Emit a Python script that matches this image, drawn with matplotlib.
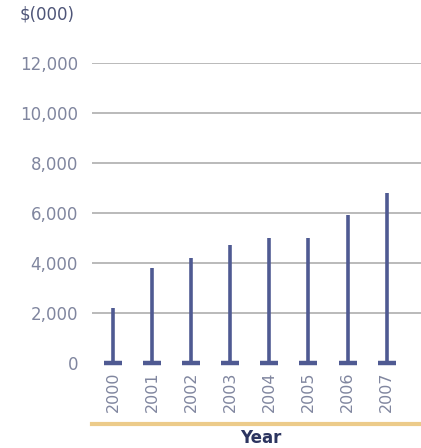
import matplotlib
matplotlib.use('Agg')
import matplotlib.pyplot as plt
from matplotlib.lines import Line2D

# Chart data
years = ['2000', '2001', '2002', '2003', '2004', '2005', '2006', '2007']
values = [2200, 3800, 4200, 4700, 5000, 5000, 5900, 6800]
y_ticks = [0, 2000, 4000, 6000, 8000, 10000, 12000]
y_tick_labels = ['0', '2,000', '4,000', '6,000', '8,000', '10,000', '12,000']

W, H = 421, 448
fig = plt.figure(figsize=(W / 100, H / 100), dpi=100)
fig.patch.set_facecolor('white')

# axes placed in pixel terms: x 92..421, y(0)=363, y(12000)=63
ax = fig.add_axes([92 / W, (H - 363) / H, (W - 92) / W, 300 / H])
ax.set_xlim(-0.54, 7.88)
ax.set_ylim(0, 12000)

label_col = '#80869f'
bar_col = '#4f5a92'

# gridlines (not at zero)
for t in y_ticks[1:]:
    ax.axhline(t, color='#b4b4b4', lw=1.3, zorder=1)

x = list(range(len(years)))
ax.vlines(x, 0, values, color=bar_col, lw=2.6, zorder=3)
ax.plot(x, [0] * len(x), ls='none', marker='_', markersize=13,
        mew=3.2, color=bar_col, clip_on=False, zorder=4)

ax.set_yticks(y_ticks)
ax.set_yticklabels(y_tick_labels, fontsize=12, color=label_col)
ax.tick_params(axis='y', length=0, pad=10)
ax.set_xticks(x)
ax.set_xticklabels(years, rotation=90, fontsize=11.5, color=label_col,
                   va='top')
ax.tick_params(axis='x', length=0, pad=6)

for s in ax.spines.values():
    s.set_visible(False)

# unit label
fig.text(20 / W, 1 - 15 / H, '$(000)', fontsize=12, color='#4e5578',
         ha='left', va='center')

# orange rule under the year labels
fig.add_artist(Line2D([92 / W, 1.0], [1 - 424 / H, 1 - 424 / H],
                      transform=fig.transFigure, color='#eccb8a', lw=3))

fig.text(261 / W, 1 - 438 / H, 'Year', fontsize=12, fontweight='bold',
         color='#2c3560', ha='center', va='center')

fig.savefig('out.png', dpi=100, facecolor='white')
